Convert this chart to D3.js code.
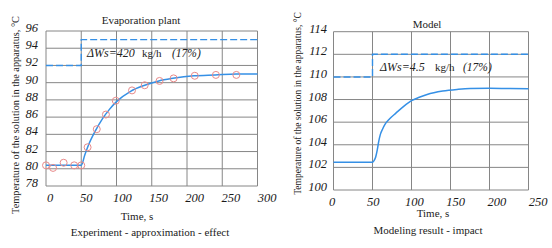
<!DOCTYPE html>
<html>
<head>
<meta charset="utf-8">
<script src="https://cdn.jsdelivr.net/npm/d3@7"></script>
<style>
  html, body { margin: 0; padding: 0; background: #fff; }
  svg text { font-family: "Liberation Serif", "Times New Roman", Times, serif; fill: #222; }
  svg text.tick { font-style: italic; font-size: 12.5px; fill: #1a1a1a; }
</style>
</head>
<body>
<div id="chart"></div>
<script>
(function(){

// ---- left panel: experiment ----
const expTicksX = [0, 50, 100, 150, 200, 250, 300];
const expTicksY = [78, 80, 82, 84, 86, 88, 90, 92, 94, 96];
// approximation curve
const expCurveT = [0, 50, 55, 60, 70, 80, 90, 100, 120, 140, 160, 180, 210, 240, 270, 300];
const expCurveV = [80.4, 80.4, 81.6, 82.7, 84.4, 85.8, 86.9, 87.8, 89.0, 89.7, 90.2, 90.5, 90.8, 90.9, 91.0, 91.0];
// measured points (circles)
const expPointT = [0, 10, 25, 40, 50, 59, 72, 85, 99, 122, 140, 161, 181, 211, 241, 270];
const expPointV = [80.4, 80.1, 80.7, 80.4, 80.4, 82.5, 84.6, 86.3, 87.9, 89.1, 89.7, 90.2, 90.5, 90.8, 90.9, 90.9];
// steam flow step (dashed)
const expStepT = [0, 50, 300];
const expStepV = [92, 95, 95];

// ---- right panel: model ----
const modTicksX = [0, 50, 100, 150, 200, 250];
const modTicksY = [100, 102, 104, 106, 108, 110, 112, 114];
const modCurveT = [0, 50, 52, 54, 56, 58, 60, 63, 66, 72, 80, 90, 100, 110, 120, 140, 160, 175, 200, 225, 250];
const modCurveV = [102.45, 102.45, 102.6, 102.9, 103.5, 104.3, 104.9, 105.4, 105.8, 106.3, 106.8, 107.4, 107.9, 108.2, 108.45, 108.75, 108.9, 108.97, 109.0, 108.97, 108.95];
const modStepT = [0, 50, 250];
const modStepV = [110, 112, 112];

const width = 552, height = 248;
const blue = "#3590e6";
const red = "#e88a8a";
const gridColor = "#868686";
const serif = "'Liberation Serif', 'Times New Roman', Times, serif";

const svg = d3.select("#chart").append("svg")
  .attr("width", width)
  .attr("height", height);

function panel(cfg) {
  const g = svg.append("g");
  const x = d3.scaleLinear().domain(cfg.xDomain).range(cfg.xRange);
  const y = d3.scaleLinear().domain(cfg.yDomain).range(cfg.yRange);
  // tick labels sit on a slightly wider scale than the grid in the original
  const xl = d3.scaleLinear().domain(cfg.xDomain).range(cfg.xLabelRange);

  // grid
  g.append("g").selectAll("line").data(cfg.ticksX).enter().append("line")
    .attr("x1", d => x(d)).attr("x2", d => x(d))
    .attr("y1", y.range()[0]).attr("y2", y.range()[1])
    .attr("stroke", gridColor).attr("stroke-width", 1);
  g.append("g").selectAll("line").data(cfg.ticksY).enter().append("line")
    .attr("y1", d => y(d)).attr("y2", d => y(d))
    .attr("x1", x.range()[0]).attr("x2", x.range()[1])
    .attr("stroke", gridColor).attr("stroke-width", 1);

  // tick labels
  g.append("g").selectAll("text").data(cfg.ticksX).enter().append("text")
    .attr("class", "tick")
    .attr("font-family", serif)
    .attr("x", d => xl(d))
    .attr("y", cfg.xLabelY)
    .attr("text-anchor", "middle")
    .text(d => d);
  g.append("g").selectAll("text").data(cfg.ticksY).enter().append("text")
    .attr("class", "tick")
    .attr("font-family", serif)
    .attr("x", cfg.yLabelX)
    .attr("y", d => y(d) + 1)
    .attr("text-anchor", "end")
    .text(d => d);

  // dashed step
  const stepData = cfg.stepT.map((t, i) => [t, cfg.stepV[i]]);
  g.append("path")
    .datum(stepData)
    .attr("fill", "none")
    .attr("stroke", blue)
    .attr("stroke-width", 1.4)
    .attr("stroke-dasharray", "7,3")
    .attr("d", d3.line().x(d => x(d[0])).y(d => y(d[1])).curve(d3.curveStepAfter));

  // response curve
  const curveData = cfg.curveT.map((t, i) => [t, cfg.curveV[i]]);
  g.append("path")
    .datum(curveData)
    .attr("fill", "none")
    .attr("stroke", blue)
    .attr("stroke-width", 1.5)
    .attr("d", d3.line().x(d => x(d[0])).y(d => y(d[1])).curve(d3.curveMonotoneX));

  if (cfg.pointT) {
    g.append("g").selectAll("circle")
      .data(cfg.pointT.map((t, i) => [t, cfg.pointV[i]]))
      .enter().append("circle")
      .attr("cx", d => x(d[0])).attr("cy", d => y(d[1]))
      .attr("r", 3.5)
      .attr("fill", "none")
      .attr("stroke", red)
      .attr("stroke-width", 1);
  }

  // annotation
  const ann = g.append("text").attr("y", cfg.annY).attr("font-family", serif);
  ann.append("tspan").attr("x", cfg.annX[0]).style("font-style", "italic").style("font-size", "12px").text(cfg.annText[0]);
  ann.append("tspan").attr("x", cfg.annX[1]).style("font-size", "11px").text("kg/h");
  ann.append("tspan").attr("x", cfg.annX[2]).style("font-style", "italic").style("font-size", "11.5px").text("(17%)");

  // titles
  g.append("text").attr("x", cfg.title[0]).attr("y", cfg.title[1]).attr("font-family", serif)
    .attr("text-anchor", "middle").style("font-size", "11px").text(cfg.title[2]);
  g.append("text").attr("x", cfg.xTitle[0]).attr("y", cfg.xTitle[1]).attr("font-family", serif)
    .attr("text-anchor", "middle").style("font-size", "11px").text("Time, s");
  g.append("text").attr("x", cfg.caption[0]).attr("y", cfg.caption[1]).attr("font-family", serif)
    .attr("text-anchor", "middle").style("font-size", "11px").text(cfg.caption[2]);
  g.append("text").attr("font-family", serif)
    .attr("transform", `translate(${cfg.yTitle[0]},${cfg.yTitle[1]}) rotate(-90)`)
    .attr("text-anchor", "middle").style("font-size", cfg.yTitle[2] + "px")
    .text("Temperature of the solution in the apparatus, \u00B0C");
}

panel({
  xDomain: [0, 300], xRange: [46, 257.5], xLabelRange: [50, 267],
  yDomain: [78, 96], yRange: [186, 31],
  ticksX: expTicksX, ticksY: expTicksY,
  xLabelY: 202, yLabelX: 38,
  curveT: expCurveT, curveV: expCurveV,
  pointT: expPointT, pointV: expPointV,
  stepT: expStepT, stepV: expStepV,
  annY: 57, annX: [87, 142, 172], annText: ["\u0394Ws=420"],
  title: [141, 24, "Evaporation plant"],
  xTitle: [137, 219.5],
  caption: [150, 235.5, "Experiment - approximation - effect"],
  yTitle: [18.5, 115, 10.3]
});

panel({
  xDomain: [0, 250], xRange: [333.5, 528.5], xLabelRange: [332, 538],
  yDomain: [100, 114], yRange: [190, 31.7],
  ticksX: modTicksX, ticksY: modTicksY,
  xLabelY: 205.5, yLabelX: 327,
  curveT: modCurveT, curveV: modCurveV,
  stepT: modStepT, stepV: modStepV,
  annY: 70.5, annX: [380, 435, 463], annText: ["\u0394Ws=4.5"],
  title: [427, 27.5, "Model"],
  xTitle: [433, 217],
  caption: [428, 233.5, "Modeling result - impact"],
  yTitle: [301, 103.5, 9.5]
});

})();
</script>
</body>
</html>
